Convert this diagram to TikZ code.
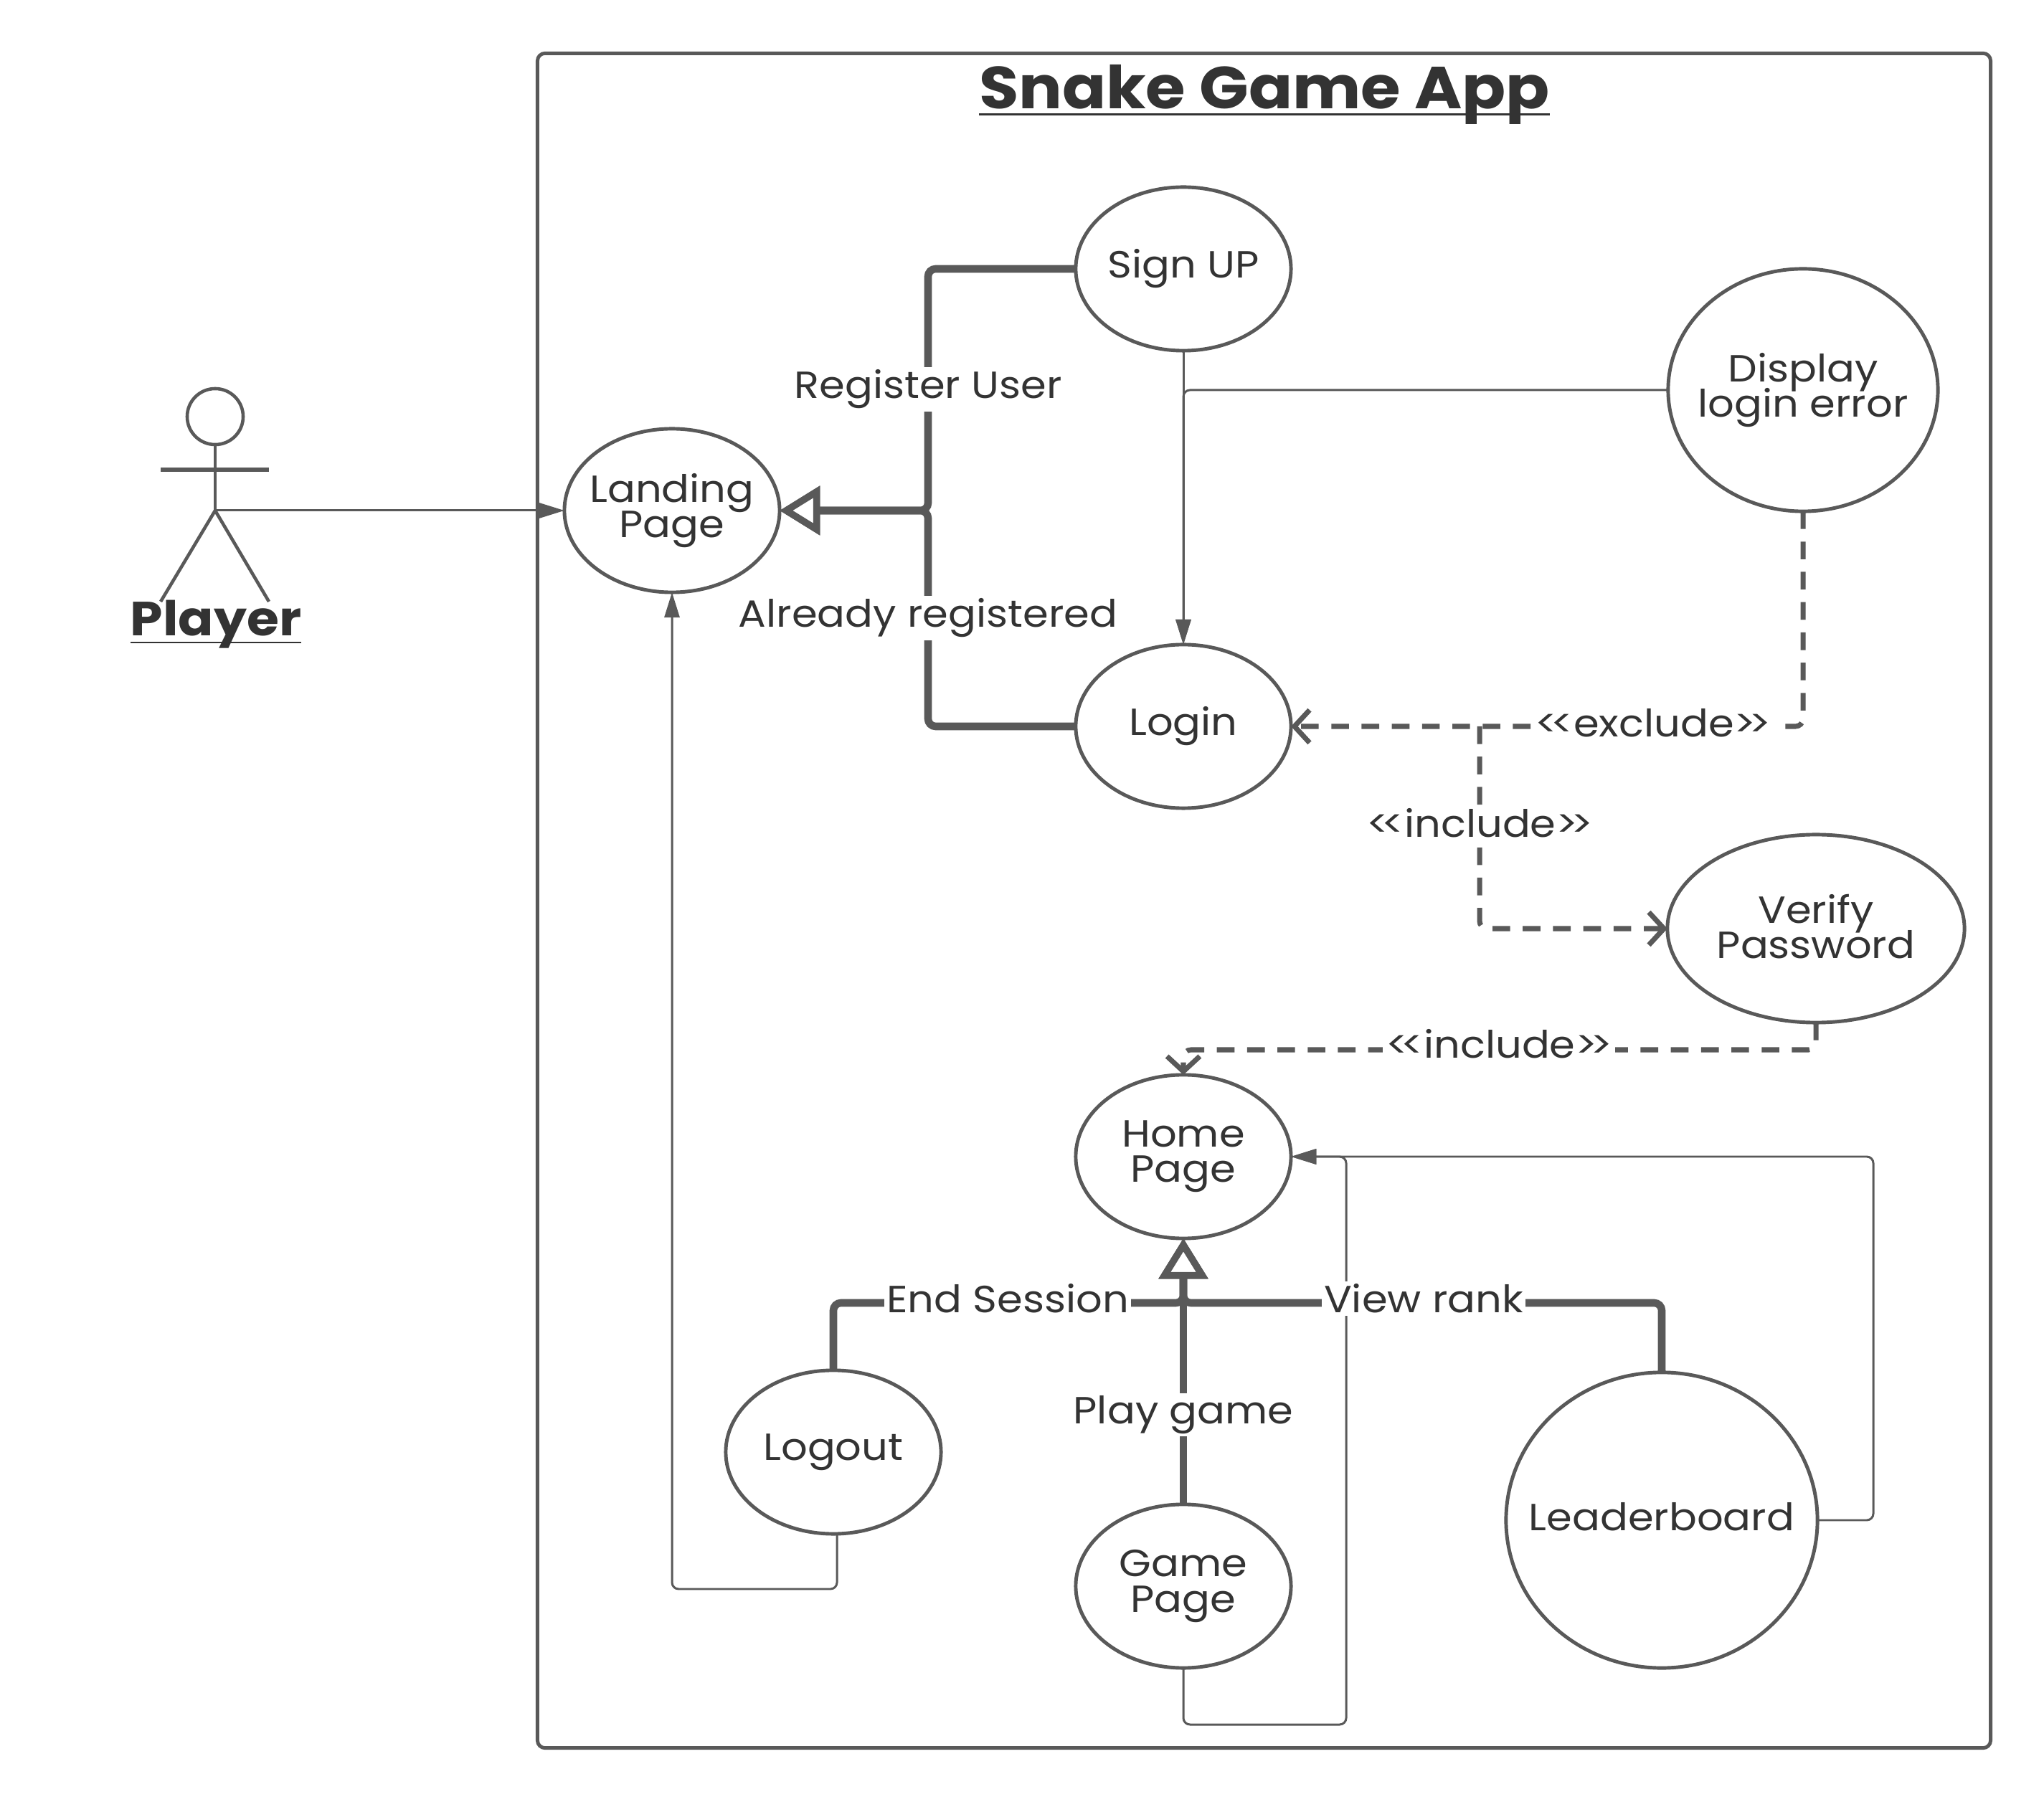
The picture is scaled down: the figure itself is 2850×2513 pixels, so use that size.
\documentclass[tikz,border=0pt]{standalone}
\usepackage{fontspec}
\setmainfont[FakeStretch=1.09]{Poppins}
\usetikzlibrary{shapes.geometric,arrows.meta}
\definecolor{linegray}{HTML}{595959}
\definecolor{textgray}{HTML}{333333}
\newcommand{\ultext}[3]{{\setbox0\hbox{#3}\rlap{\rule[-#1]{\wd0}{#2}}\box0}}
\newcommand{\zerow}[1]{\hbox to 0pt{\hss #1\hss}}
\newcommand{\oneline}[1]{\raisebox{1.2pt}{\hbox to 0pt{\hss #1\hss}}}
\newcommand{\dblopen}{<\kern-3pt<}
\newcommand{\dblclose}{>\kern-3pt>}
\AtBeginDocument{\lineskiplimit=-20pt\relax}
\tikzset{
  x=0.01cm,y=-0.01cm,
  base/.style={line cap=butt,color=linegray},
  usecase/.style={draw=linegray,line width=1.4pt,ellipse,fill=none,inner sep=0pt,outer sep=0pt,
    minimum width=3cm,minimum height=2.28cm,align=center,text=textgray,
    font=\fontsize{15}{14}\selectfont},
  lbl/.style={fill=white,inner sep=1pt,outer sep=0pt,text=textgray,font=\fontsize{15}{15}\selectfont},
  thinline/.style={base,line width=0.85pt,rounded corners=2.6pt,-{Triangle[length=10pt,width=6pt]}},
  thickline/.style={base,line width=3pt,rounded corners=3pt},
  gen/.style={thickline,-{Triangle[open,fill=white,length=16pt,width=19pt,line width=2.7pt]}},
  dashline/.style={base,line width=2pt,rounded corners=3pt,dash pattern=on 7pt off 5pt,
    -{Straight Barb[length=6pt,width=13pt,line width=2pt]}},
}
\begin{document}
\begin{tikzpicture}
\useasboundingbox (0,0) rectangle (2850,2513);
\fill[white] (0,0) rectangle (2850,2513);
% system frame
\node[draw=linegray,line width=1.4pt,rounded corners=3pt,minimum width=20.25cm,minimum height=23.62cm,
  inner sep=0pt,outer sep=0pt] (frame) at (1762.5,1256) {};
\node[text=textgray,font=\fontsize{23.5}{26}\selectfont\bfseries,inner sep=0pt] (title) at (1763,132)
  {\ultext{2.8pt}{0.9pt}{Snake Game App}};
% actor
\node[draw=linegray,line width=1.3pt,circle,minimum size=0.78cm,inner sep=0pt,outer sep=0pt] (head) at (300,581) {};
\coordinate (crotch) at (300,712);
\coordinate (armL) at (224,655);
\coordinate (armR) at (375,655);
\coordinate (legL) at (224,839);
\coordinate (legR) at (375,839);
\draw[base,line width=1.3pt] (head.south) -- (crotch);
\draw[base,line width=1.5pt] (armL) -- (armR);
\draw[base,line width=1.3pt] (legL) -- (crotch) -- (legR);
\node[text=textgray,font=\fontsize{19}{20}\selectfont\bfseries,inner sep=0pt] (player) at (301,871)
  {\ultext{3pt}{0.7pt}{Player}};
% use cases
\node[usecase] (land) at (937,712) {\zerow{Landing}\\\zerow{Page}};
\node[usecase] (sign) at (1650,375) {\oneline{Sign UP}};
\node[usecase] (login) at (1650,1013) {\oneline{Login}};
\node[usecase,minimum width=3.76cm,minimum height=3.38cm] (disp) at (2514,544) {\zerow{Display}\\\zerow{login error}};
\node[usecase,minimum width=4.14cm,minimum height=2.62cm] (verify) at (2532,1295) {\raisebox{2pt}{\zerow{Verify}}\\\raisebox{2pt}{\zerow{Password}}};
\node[usecase] (home) at (1650,1613) {\zerow{Home}\\\zerow{Page}};
\node[usecase] (logout) at (1162,2025) {\oneline{Logout}};
\node[usecase] (game) at (1650,2212) {\zerow{Game}\\\zerow{Page}};
\node[usecase,minimum width=4.34cm,minimum height=4.12cm] (board) at (2317,2120) {\raisebox{2.6pt}{\zerow{Leaderboard}}};
% routing points
\coordinate (j1) at (1294,712);
\coordinate (j2) at (1650,1817);
\coordinate (r1) at (2063,1013);
\coordinate (r2) at (2063,1295);
\coordinate (r3) at (2532,1464);
\coordinate (r4) at (1650,1464);
\coordinate (d1) at (2514,1013);
\coordinate (l1) at (1167,2216);
\coordinate (l2) at (937,2216);
\coordinate (g1) at (1650,2405);
\coordinate (g2) at (1877,2405);
\coordinate (g3) at (1877,1613);
\coordinate (b1) at (2612,2120);
\coordinate (b2) at (2612,1613);
\coordinate (c1) at (1650,544);
% thin connectors
\draw[thinline] (crotch) -- (land.west);
\draw[thinline] (sign.south) -- (login.north);
\draw[thinline] (disp.west) -- (c1) -- (login.north);
\draw[thinline] (logout.south -| l1) -- (l1) -- (l2) -- (land.south);
\draw[thinline] (game.south) -- (g1) -- (g2) -- (g3) -- (home.east);
\draw[thinline] (board.east) -- (b1) -- (b2) -- (home.east);
% dashed connectors
\draw[dashline] (disp.south) -- (d1) -- (login.east);
\draw[dashline] (r1) -- (r2) -- (verify.west);
\draw[dashline] (verify.south) -- (r3) -- (r4) -- (home.north);
% generalisations
\draw[gen] (sign.west) -| (j1) -- (land.east);
\draw[gen] (login.west) -| (j1) -- (land.east);
\draw[gen] (logout.north) |- (j2) -- (home.south);
\draw[gen] (board.north) |- (j2) -- (home.south);
\draw[gen] (game.north) -- (home.south);
% labels
\node[lbl] (lreg) at (1294,543) {Register User};
\node[lbl] (lalr) at (1294,862) {Already registered};
\node[lbl] (lexc) at (2305,1008) {\dblopen exclude\dblclose};
\node[lbl] (linc) at (2063,1148) {\dblopen include\dblclose};
\node[lbl] (linh) at (2090,1456) {\dblopen include\dblclose};
\node[lbl] (lend) at (1405,1811) {End Session};
\node[lbl] (lview) at (1985,1811) {View rank};
\node[lbl] (lplay) at (1650,1973) {Play game};
\end{tikzpicture}
\end{document}
